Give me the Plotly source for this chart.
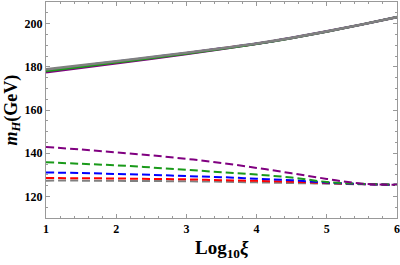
import plotly.graph_objects as go

x = [1, 1.5, 2, 2.5, 3, 3.5, 4, 4.5, 5, 5.5, 6]

# solid curves
solid_purple = [177.4, 179.5, 181.6, 183.7, 185.9, 188.2, 190.6, 193.3, 196.3, 199.6, 203.0]
solid_red    = [178.3, 180.3, 182.2, 184.2, 186.3, 188.5, 190.7, 193.4, 196.4, 199.6, 203.0]
solid_blue   = [178.5, 180.5, 182.4, 184.4, 186.4, 188.5, 190.7, 193.4, 196.4, 199.6, 203.0]
solid_green  = [178.0, 180.0, 182.0, 184.0, 186.1, 188.3, 190.6, 193.3, 196.3, 199.6, 203.0]
solid_gray   = [178.8, 180.7, 182.6, 184.5, 186.5, 188.6, 190.8, 193.4, 196.4, 199.6, 203.0]

# dashed curves
dash_purple = [142.9, 141.7, 140.4, 139.0, 137.4, 135.5, 133.2, 130.7, 128.1, 125.9, 125.4]
dash_green  = [135.8, 135.1, 134.4, 133.4, 132.3, 131.2, 130.1, 128.7, 126.7, 125.8, 125.4]
dash_blue   = [131.1, 130.8, 130.4, 130.0, 129.4, 128.9, 128.2, 127.5, 126.4, 125.7, 125.4]
dash_red    = [128.5, 128.4, 128.3, 128.1, 127.9, 127.5, 127.2, 126.8, 126.2, 125.7, 125.4]
dash_gray   = [127.3, 127.3, 127.2, 127.1, 127.0, 126.8, 126.5, 126.2, 125.9, 125.6, 125.4]

x_ticks = [1, 2, 3, 4, 5, 6]
y_ticks = [120, 140, 160, 180, 200]

PURPLE = "#800080"
GREEN = "#1a9a1a"
BLUE = "#0000ff"
RED = "#ff0000"
GRAY = "#808080"

fig = go.Figure()

for ys, c in [(solid_purple, PURPLE), (solid_red, RED), (solid_blue, BLUE),
              (solid_green, GREEN), (solid_gray, GRAY)]:
    fig.add_trace(go.Scatter(x=x, y=ys, mode="lines",
                             line=dict(color=c, width=2.2 if c != GRAY else 2.6, shape="spline"),
                             showlegend=False, hoverinfo="skip"))

for ys, c in [(dash_gray, GRAY), (dash_red, RED), (dash_blue, BLUE),
              (dash_green, GREEN), (dash_purple, PURPLE)]:
    fig.add_trace(go.Scatter(x=x, y=ys, mode="lines",
                             line=dict(color=c, width=2, dash="8px,4px", shape="spline"),
                             showlegend=False, hoverinfo="skip"))

font_fam = "Liberation Serif"

fig.update_layout(
    width=400, height=265,
    margin=dict(l=46, r=3, t=2, b=47, autoexpand=False),
    paper_bgcolor="white", plot_bgcolor="white",
    font=dict(family=font_fam, color="black"),
    xaxis=dict(range=[1, 6], tickvals=x_ticks, automargin=False,
               ticktext=["<b>%d</b>" % v for v in x_ticks],
               tickfont=dict(family=font_fam, size=12, color="black"),
               showgrid=False, zeroline=False,
               showline=True, linecolor="#999999", linewidth=1, mirror="allticks",
               ticks="inside", ticklen=4, tickcolor="#999999",
               minor=dict(dtick=0.2, ticks="inside", ticklen=2, tickcolor="#999999", showgrid=False)),
    yaxis=dict(range=[110, 210], tickvals=y_ticks, automargin=False,
               ticktext=["<b>%d</b>" % v for v in y_ticks],
               tickfont=dict(family=font_fam, size=12, color="black"),
               showgrid=False, zeroline=False,
               showline=True, linecolor="#999999", linewidth=1, mirror="allticks",
               ticks="inside", ticklen=4, tickcolor="#999999",
               minor=dict(dtick=5, ticks="inside", ticklen=2, tickcolor="#999999", showgrid=False)),
)

fig.add_annotation(text="<b><i>m</i><sub><i>H</i></sub>(GeV)</b>", xref="paper", yref="paper",
                   x=-0.098, y=0.5, xanchor="center", yanchor="middle", textangle=-90,
                   showarrow=False, font=dict(family=font_fam, size=18, color="black"))
fig.add_annotation(text="<b>Log<sub>10</sub><i>ξ</i></b>", xref="paper", yref="paper",
                   x=0.5, y=-0.145, xanchor="center", yanchor="middle",
                   showarrow=False, font=dict(family=font_fam, size=19, color="black"))

fig.write_html("out.html", config={"displayModeBar": False},
               post_script="document.body.style.margin='0';document.body.style.overflow='hidden';")
